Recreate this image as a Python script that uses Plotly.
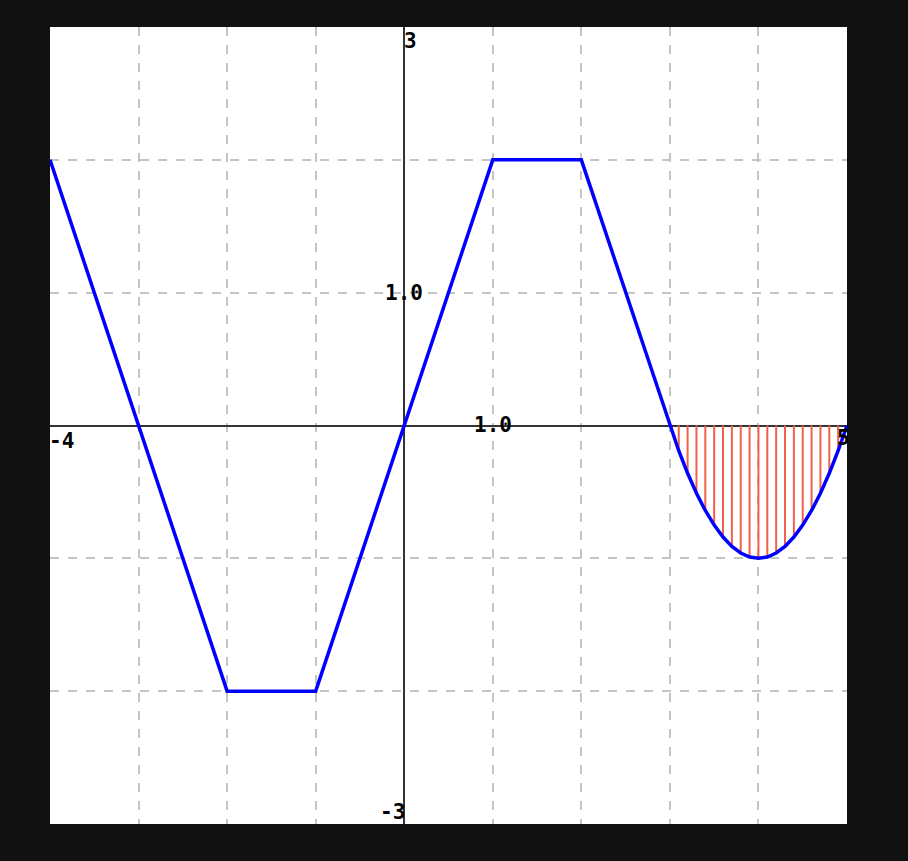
import plotly.graph_objects as go

# Piecewise-linear part of the curve
lin_x = [-4, -3, -2, -1, 0, 1, 2, 3]
lin_y = [2, 0, -2, -2, 0, 2, 2, 0]

# Curved (parabolic) part between x=3 and x=5, read at 0.1 steps
arc_x = [3.0, 3.1, 3.2, 3.3, 3.4, 3.5, 3.6, 3.7, 3.8, 3.9, 4.0,
         4.1, 4.2, 4.3, 4.4, 4.5, 4.6, 4.7, 4.8, 4.9, 5.0]
arc_y = [0.0, -0.19, -0.36, -0.51, -0.64, -0.75, -0.84, -0.91, -0.96, -0.99, -1.0,
         -0.99, -0.96, -0.91, -0.84, -0.75, -0.64, -0.51, -0.36, -0.19, 0.0]

x_range = [-4, 5]
y_range = [-3, 3]
x_label = "1.0"
y_label = "1.0"

curve_x = lin_x + arc_x[1:]
curve_y = lin_y + arc_y[1:]

# vertical hatch segments between the arc and the x axis
hx, hy = [], []
for xv, yv in zip(arc_x[1:-1], arc_y[1:-1]):
    hx += [xv, xv, None]
    hy += [0, yv, None]

fig = go.Figure()
fig.add_trace(go.Scatter(x=hx, y=hy, mode="lines",
                         line=dict(color="#f2604c", width=2),
                         hoverinfo="skip", showlegend=False))
fig.add_trace(go.Scatter(x=curve_x, y=curve_y, mode="lines",
                         line=dict(color="#0000ff", width=3.5),
                         showlegend=False))

font = dict(family="DejaVu Sans Mono", size=21, color="#000000")
ann = [
    dict(x=0, y=y_range[1], text="<b>3</b>", xanchor="left", yanchor="top", xshift=-2, yshift=0),
    dict(x=0, y=y_range[0], text="<b>-3</b>", xanchor="right", yanchor="bottom", xshift=3, yshift=-2),
    dict(x=x_range[0], y=0, text="<b>-4</b>", xanchor="left", yanchor="top", xshift=-3, yshift=-1),
    dict(x=x_range[1], y=0, text="<b>5</b>", xanchor="right", yanchor="top", xshift=5, yshift=2),
    dict(x=1, y=0, text="<b>" + x_label + "</b>", xanchor="center", yanchor="middle", yshift=1),
    dict(x=0, y=1, text="<b>" + y_label + "</b>", xanchor="center", yanchor="middle"),
]
for a in ann:
    a.update(xref="x", yref="y", showarrow=False, font=font)

fig.update_layout(
    width=908, height=861,
    margin=dict(l=50, r=61, t=27, b=37),
    paper_bgcolor="#111111",
    plot_bgcolor="#ffffff",
    annotations=ann,
    xaxis=dict(range=x_range, tickvals=list(range(-4, 6)), showticklabels=False,
               showgrid=True, gridcolor="#c4c4c4", griddash="dash", gridwidth=1.5,
               zeroline=True, zerolinecolor="#333333", zerolinewidth=1.6,
               showline=False, fixedrange=True),
    yaxis=dict(range=y_range, tickvals=list(range(-3, 4)), showticklabels=False,
               showgrid=True, gridcolor="#c4c4c4", griddash="dash", gridwidth=1.5,
               zeroline=True, zerolinecolor="#333333", zerolinewidth=1.6,
               showline=False, fixedrange=True),
)

fig.write_html(
    "out.html",
    config={"displayModeBar": False},
    post_script="document.body.style.margin='0';document.body.style.background='#111111';"
                "document.documentElement.style.overflow='hidden';",
)
